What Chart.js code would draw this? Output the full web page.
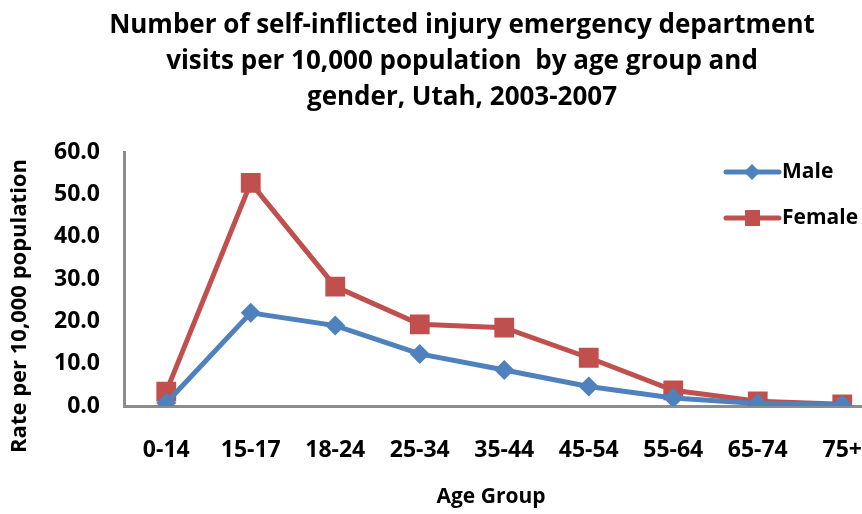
<!DOCTYPE html>
<html>
<head>
<meta charset="utf-8">
<script src="https://cdn.jsdelivr.net/npm/chart.js@4.4.1/dist/chart.umd.min.js"></script>
<style>
  html, body { margin: 0; padding: 0; background: #ffffff; overflow: hidden; }
  #wrap { position: absolute; left: 0; top: 0; width: 924px; height: 514px; }
</style>
</head>
<body>
<div id="wrap"><canvas id="c" width="924" height="514"></canvas></div>
<script>
const titleLines = [
  'Number of self-inflicted injury emergency department',
  'visits per 10,000 population  by age group and',
  'gender, Utah, 2003-2007'
];
const categories = ['0-14', '15-17', '18-24', '25-34', '35-44', '45-54', '55-64', '65-74', '75+'];
const maleValues = [0.7, 22.0, 19.0, 12.3, 8.5, 4.6, 1.9, 0.6, 0.3];
const femaleValues = [3.4, 52.7, 28.2, 19.3, 18.5, 11.4, 3.7, 1.1, 0.4];
const seriesNames = ['Male', 'Female'];
const yTitle = 'Rate per 10,000 population';
const xTitle = 'Age Group';

const FONT = '"Open Sans", Lato, sans-serif';
const MALE = '#4F81BD';
const FEMALE = '#C0504D';

const overlay = {
  id: 'overlay',
  afterDraw(chart) {
    const ctx = chart.ctx;
    ctx.save();
    ctx.fillStyle = '#000';
    // title
    ctx.font = 'bold 26px ' + FONT;
    ctx.textAlign = 'center';
    ctx.textBaseline = 'middle';
    const tys = [26, 62, 98];
    titleLines.forEach((t, i) => ctx.fillText(t, 462, tys[i]));
    // y title
    ctx.save();
    ctx.translate(20, 306);
    ctx.rotate(-Math.PI / 2);
    ctx.font = 'bold 22px ' + FONT;
    ctx.fillText(yTitle, 0, 0);
    ctx.restore();
    // x title
    ctx.font = 'bold 21px ' + FONT;
    ctx.fillText(xTitle, 491, 497);
    // legend
    const items = [
      { name: seriesNames[0], color: MALE, style: 'diamond', y: 172 },
      { name: seriesNames[1], color: FEMALE, style: 'square', y: 218 }
    ];
    items.forEach(it => {
      ctx.strokeStyle = it.color;
      ctx.lineWidth = 5;
      ctx.lineCap = 'round';
      ctx.beginPath();
      ctx.moveTo(726, it.y);
      ctx.lineTo(779, it.y);
      ctx.stroke();
      ctx.fillStyle = it.color;
      ctx.beginPath();
      if (it.style === 'diamond') {
        ctx.moveTo(752, it.y - 8); ctx.lineTo(760, it.y); ctx.lineTo(752, it.y + 8); ctx.lineTo(744, it.y);
      } else {
        ctx.rect(745, it.y - 8, 15, 16);
      }
      ctx.closePath();
      ctx.fill();
      ctx.fillStyle = '#000';
      ctx.textAlign = 'left';
      ctx.font = 'bold 21px ' + FONT;
      ctx.fillText(it.name, 782, it.y);
    });
    ctx.restore();
  }
};

new Chart(document.getElementById('c'), {
  type: 'line',
  data: {
    labels: categories,
    datasets: [
      {
        label: seriesNames[0],
        data: maleValues,
        borderColor: MALE,
        backgroundColor: MALE,
        borderWidth: 5,
        pointStyle: 'rectRot',
        pointRadius: 10,
        pointBorderWidth: 0,
        tension: 0
      },
      {
        label: seriesNames[1],
        data: femaleValues,
        borderColor: FEMALE,
        backgroundColor: FEMALE,
        borderWidth: 5,
        pointStyle: 'rect',
        pointRadius: 14,
        pointBorderWidth: 0,
        tension: 0
      }
    ]
  },
  options: {
    responsive: false,
    animation: false,
    events: [],
    layout: { padding: { top: 152, left: 0, right: 39.5, bottom: 0 } },
    plugins: {
      legend: { display: false },
      title: { display: false },
      tooltip: { enabled: false }
    },
    scales: {
      x: {
        offset: true,
        grid: { display: true, drawOnChartArea: false, drawTicks: false },
        border: { display: true, color: '#8c8c8c', width: 3 },
        ticks: { color: '#000', font: { family: FONT, size: 23, weight: 'bold' }, padding: 31, maxRotation: 0, autoSkip: false },
        afterFit(s) { s.height = 108; }
      },
      y: {
        min: 0,
        max: 60,
        grid: { display: true, drawOnChartArea: false, drawTicks: false },
        border: { display: true, color: '#8c8c8c', width: 3 },
        ticks: {
          stepSize: 10,
          color: '#000',
          font: { family: FONT, size: 23, weight: 'bold' },
          padding: 24,
          callback: v => v.toFixed(1)
        },
        afterFit(s) { s.width = 124; }
      }
    }
  },
  plugins: [overlay]
});
</script>
</body>
</html>
